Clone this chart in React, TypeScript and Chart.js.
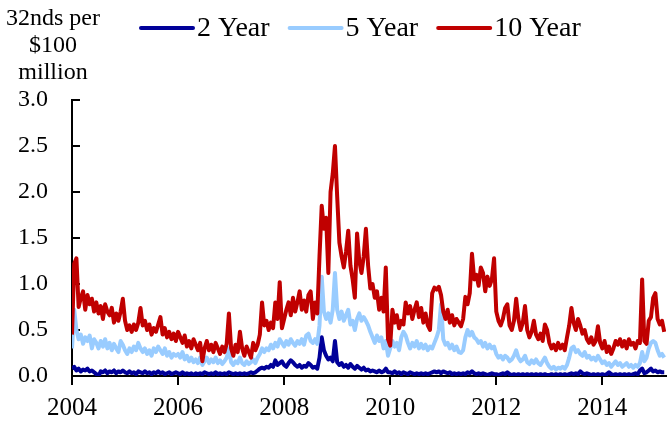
import React, { useEffect, useRef } from "react";
import { Chart, registerables } from "chart.js";

Chart.register(...registerables);

// ---- data (half-monthly observations starting Jan 2004) ----
const START_YEAR = 2004;
const POINTS_PER_YEAR = 24;

const seriesLabels = ["2 Year", "5 Year", "10 Year"];
const seriesColors = ["#000099", "#99CCFF", "#C00000"];

const twoYear = [
  0.08, 0.1, 0.06, 0.08, 0.05, 0.07, 0.06, 0.08, 0.05, 0.06, 0.04, 0.02, 0.0, 0.05, 0.04, 0.06, 0.03, 0.05, 0.04, 0.06, 0.03, 0.05, 0.04, 0.06,
  0.04, 0.03, 0.05, 0.03, 0.04, 0.02, 0.05, 0.04, 0.03, 0.05, 0.03, 0.04, 0.02, 0.04, 0.03, 0.05, 0.03, 0.04, 0.02, 0.03, 0.04, 0.02, 0.03, 0.04,
  0.03, 0.02, 0.04, 0.02, 0.03, 0.02, 0.03, 0.01, 0.03, 0.02, 0.03, 0.02, 0.04, 0.03, 0.02, 0.03, 0.02, 0.04, 0.02, 0.03, 0.02, 0.03, 0.02, 0.04,
  0.03, 0.02, 0.03, 0.02, 0.03, 0.02, 0.03, 0.02, 0.03, 0.04, 0.03, 0.04, 0.06, 0.08, 0.09, 0.08, 0.1, 0.09, 0.12, 0.1, 0.17, 0.12, 0.14, 0.16,
  0.12, 0.1, 0.14, 0.17, 0.15, 0.12, 0.1, 0.12, 0.09, 0.11, 0.1, 0.14, 0.12, 0.09, 0.1, 0.08, 0.2, 0.42, 0.28, 0.22, 0.18, 0.2, 0.16, 0.38,
  0.15, 0.12, 0.14, 0.1, 0.12, 0.09, 0.13, 0.1, 0.08, 0.11, 0.09, 0.07, 0.09, 0.06, 0.07, 0.05, 0.06, 0.05, 0.04, 0.06, 0.04, 0.05, 0.08, 0.04,
  0.04, 0.03, 0.05, 0.03, 0.04, 0.02, 0.04, 0.03, 0.02, 0.04, 0.03, 0.02, 0.03, 0.02, 0.03, 0.02, 0.03, 0.02, 0.03, 0.04, 0.05, 0.04, 0.05, 0.03,
  0.05, 0.04, 0.03, 0.04, 0.02, 0.03, 0.02, 0.03, 0.02, 0.03, 0.02, 0.04, 0.03, 0.05, 0.03, 0.02, 0.03, 0.02, 0.03, 0.02, 0.01, 0.02, 0.03, 0.02,
  0.02, 0.01, 0.02, 0.03, 0.02, 0.04, 0.02, 0.01, 0.02, 0.01, 0.02, 0.01, 0.02, 0.01, 0.02, 0.01, 0.02, 0.01, 0.02, 0.01, 0.02, 0.01, 0.02, 0.01,
  0.01, 0.02, 0.01, 0.02, 0.01, 0.02, 0.01, 0.02, 0.01, 0.02, 0.03, 0.02, 0.03, 0.02, 0.05, 0.03, 0.02, 0.03, 0.02, 0.01, 0.02, 0.01, 0.02, 0.01,
  0.02, 0.01, 0.02, 0.04, 0.02, 0.01, 0.02, 0.01, 0.02, 0.01, 0.02, 0.01, 0.02, 0.01, 0.02, 0.03, 0.02, 0.06, 0.08, 0.03, 0.04, 0.06, 0.08, 0.05,
  0.06, 0.04, 0.05, 0.04, 0.04,
];

const fiveYear = [
  0.3, 0.72, 0.5, 0.4, 0.45, 0.35, 0.42, 0.38, 0.44, 0.3, 0.4, 0.36, 0.3, 0.38, 0.32, 0.4, 0.3, 0.36, 0.28, 0.35, 0.3, 0.26, 0.38, 0.34,
  0.28, 0.24, 0.3, 0.26, 0.32, 0.28, 0.36, 0.3, 0.26, 0.3, 0.24, 0.28, 0.22, 0.3, 0.26, 0.32, 0.28, 0.24, 0.3, 0.22, 0.26, 0.2, 0.24, 0.22,
  0.24, 0.2, 0.26, 0.18, 0.22, 0.16, 0.2, 0.15, 0.18, 0.14, 0.2, 0.12, 0.16, 0.2, 0.14, 0.18, 0.15, 0.2, 0.14, 0.17, 0.13, 0.16, 0.2, 0.3,
  0.15, 0.12, 0.16, 0.14, 0.2, 0.14, 0.12, 0.16, 0.13, 0.15, 0.18, 0.14, 0.2, 0.24, 0.3, 0.26, 0.3, 0.28, 0.34, 0.3, 0.36, 0.32, 0.4, 0.36,
  0.32, 0.38, 0.34, 0.4, 0.36, 0.33, 0.38, 0.35, 0.4, 0.34, 0.44, 0.46, 0.38, 0.36, 0.4, 0.35, 0.55, 1.08, 0.7, 0.62, 0.68, 0.58, 0.72, 1.12,
  0.72, 0.62, 0.7, 0.6, 0.66, 0.72, 0.56, 0.6, 0.5, 0.62, 0.68, 0.6, 0.64, 0.6, 0.55, 0.48, 0.42, 0.36, 0.44, 0.38, 0.42, 0.3, 0.38, 0.22,
  0.3, 0.38, 0.32, 0.36, 0.28, 0.42, 0.48, 0.44, 0.36, 0.3, 0.36, 0.32, 0.38, 0.3, 0.35, 0.3, 0.34, 0.28, 0.32, 0.3, 0.36, 0.42, 0.5, 0.78,
  0.4, 0.34, 0.36, 0.3, 0.34, 0.28, 0.32, 0.26, 0.25, 0.28, 0.42, 0.5, 0.44, 0.48, 0.42, 0.4, 0.36, 0.38, 0.32, 0.36, 0.3, 0.34, 0.3, 0.32,
  0.24, 0.2, 0.22, 0.18, 0.22, 0.2, 0.16, 0.18, 0.22, 0.28, 0.2, 0.16, 0.18, 0.22, 0.15, 0.13, 0.17, 0.14, 0.18, 0.14, 0.12, 0.16, 0.2, 0.14,
  0.1, 0.08, 0.1, 0.07, 0.09, 0.08, 0.1, 0.08, 0.12, 0.2, 0.3, 0.32, 0.26, 0.28, 0.24, 0.22, 0.26, 0.2, 0.22, 0.18, 0.2, 0.17, 0.22, 0.18,
  0.14, 0.16, 0.12, 0.14, 0.1, 0.13, 0.16, 0.12, 0.14, 0.1, 0.12, 0.14, 0.1, 0.12, 0.09, 0.12, 0.1, 0.14, 0.26, 0.16, 0.2, 0.3, 0.36, 0.38,
  0.36, 0.28, 0.22, 0.24, 0.2,
];

const tenYear = [
  0.45, 1.22, 1.28, 0.75, 0.85, 0.92, 0.72, 0.88, 0.78, 0.84, 0.7, 0.8, 0.68, 0.76, 0.62, 0.78, 0.7, 0.66, 0.74, 0.58, 0.68, 0.6, 0.7, 0.84,
  0.6, 0.5, 0.55, 0.48, 0.56, 0.5, 0.58, 0.74, 0.55, 0.6, 0.5, 0.56, 0.45, 0.52, 0.48, 0.56, 0.64, 0.45, 0.52, 0.42, 0.48, 0.4, 0.46, 0.38,
  0.48, 0.42, 0.36, 0.44, 0.32, 0.38, 0.3, 0.4, 0.34, 0.28, 0.36, 0.16, 0.3, 0.38, 0.28, 0.34, 0.26, 0.36, 0.3, 0.24, 0.32, 0.26, 0.35, 0.68,
  0.3, 0.22, 0.34, 0.26, 0.48, 0.3, 0.22, 0.32, 0.26, 0.2, 0.36, 0.28, 0.34, 0.45, 0.8, 0.55, 0.6, 0.5, 0.58, 0.52, 0.8, 0.62, 1.02, 0.52,
  0.62, 0.72, 0.8, 0.66, 0.85, 0.7, 0.8, 0.92, 0.72, 0.82, 0.7, 0.88, 0.92, 0.62, 0.8, 0.68, 1.3, 1.85, 1.6, 1.72, 1.12, 2.0, 2.2, 2.5,
  1.95, 1.45, 1.3, 1.18, 1.35, 1.58, 1.2, 1.05, 0.85, 1.55, 1.25, 1.12, 1.3, 1.6, 1.2, 0.95, 1.0, 0.85, 0.92, 0.72, 0.85, 0.7, 1.18, 0.4,
  0.33, 0.72, 0.58, 0.66, 0.52, 0.6, 0.56, 0.8, 0.68, 0.76, 0.62, 0.72, 0.8, 0.64, 0.74, 0.58, 0.68, 0.55, 0.5, 0.9, 0.96, 0.94, 0.97, 0.88,
  0.7, 0.62, 0.72, 0.58, 0.66, 0.55, 0.62, 0.58, 0.54, 0.62, 0.86, 0.78, 0.9, 1.33, 1.05, 1.1, 0.98, 1.18, 1.12, 0.92, 1.08, 0.98, 1.05, 1.28,
  0.7, 0.6, 0.55, 0.62, 0.74, 0.78, 0.55, 0.5, 0.6, 0.84, 0.62, 0.5, 0.58, 0.76, 0.5, 0.42, 0.48, 0.6, 0.45, 0.4, 0.46, 0.38, 0.56, 0.5,
  0.36, 0.3, 0.34, 0.28, 0.36, 0.3, 0.34, 0.28, 0.42, 0.55, 0.74, 0.58, 0.5, 0.62, 0.55, 0.46, 0.5, 0.4, 0.36, 0.42, 0.34, 0.38, 0.54, 0.36,
  0.3, 0.38, 0.26, 0.32, 0.24, 0.3, 0.38, 0.34, 0.4, 0.32, 0.38, 0.3, 0.4, 0.34, 0.36, 0.3, 0.38, 0.36, 1.05, 0.38, 0.35, 0.6, 0.64, 0.85,
  0.9, 0.62, 0.56, 0.6, 0.48,
];

const xTickYears = [2004, 2006, 2008, 2010, 2012, 2014];
const X_MAX = 2015.2;
const Y_MIN = 0;
const Y_MAX = 3;
const Y_STEP = 0.5;
const unitTitleLines = ["32nds per", "$100", "million"];

const FONT = "'Liberation Serif', 'Times New Roman', serif";

const toPoints = (values: number[]) =>
  values.map((v, i) => ({ x: START_YEAR + i / POINTS_PER_YEAR, y: v }));

const overlayPlugin = {
  id: "overlayText",
  afterDraw(chart: any) {
    const ctx = chart.ctx as CanvasRenderingContext2D;
    ctx.save();
    // unit title (top-left)
    ctx.fillStyle = "#000";
    ctx.font = `24px ${FONT}`;
    ctx.textAlign = "center";
    ctx.textBaseline = "middle";
    unitTitleLines.forEach((t, i) => ctx.fillText(t, 53, 19 + i * 27));
    // legend
    ctx.font = `28px ${FONT}`;
    ctx.textAlign = "left";
    let x = 141;
    const y = 28;
    chart.data.datasets.forEach((ds: any) => {
      ctx.strokeStyle = ds.borderColor;
      ctx.lineWidth = 4;
      ctx.lineCap = "round";
      ctx.beginPath();
      ctx.moveTo(x, y);
      ctx.lineTo(x + 52, y);
      ctx.stroke();
      ctx.fillText(ds.label, x + 56, y + 1);
      x += 56 + ctx.measureText(ds.label).width + 20;
    });
    ctx.restore();
  },
};

export default function App() {
  const canvasRef = useRef<HTMLCanvasElement | null>(null);

  useEffect(() => {
    document.body.style.margin = "0";
    const canvas = canvasRef.current;
    if (!canvas) return;
    const seriesValues = [twoYear, fiveYear, tenYear];
    const chart = new Chart(canvas, {
      type: "line",
      data: {
        datasets: seriesValues.map((vals, i) => ({
          label: seriesLabels[i],
          data: toPoints(vals),
          borderColor: seriesColors[i],
          backgroundColor: seriesColors[i],
          borderWidth: 4,
          pointRadius: 0,
          tension: 0,
          fill: false,
          borderJoinStyle: "round" as const,
          order: 3 - i,
        })),
      },
      options: {
        animation: false,
        responsive: true,
        maintainAspectRatio: false,
        layout: { padding: { top: 100, right: 1, left: 0, bottom: 0 } },
        plugins: {
          legend: { display: false },
          tooltip: { enabled: false },
          title: { display: false },
        },
        scales: {
          x: {
            type: "linear",
            min: START_YEAR,
            max: X_MAX,
            afterFit: (s: any) => {
              s.height = 50;
            },
            border: { display: true, color: "#000", width: 2 },
            grid: {
              display: true,
              drawOnChartArea: false,
              drawTicks: true,
              tickLength: 9,
              color: "#000",
              lineWidth: 2,
            },
            ticks: {
              stepSize: 2,
              includeBounds: false,
              autoSkip: false,
              maxRotation: 0,
              padding: 8,
              color: "#000",
              font: { family: FONT, size: 25 },
              callback: (v: any) => (xTickYears.includes(Number(v)) ? String(v) : ""),
            },
          },
          y: {
            min: Y_MIN,
            max: Y_MAX,
            afterFit: (s: any) => {
              s.width = 72;
            },
            border: { display: true, color: "#000", width: 2 },
            grid: {
              display: true,
              drawOnChartArea: false,
              drawTicks: true,
              tickLength: -8,
              color: "#000",
              lineWidth: 2,
            },
            ticks: {
              stepSize: Y_STEP,
              padding: 32,
              color: "#000",
              font: { family: FONT, size: 24 },
              callback: (v: any) => Number(v).toFixed(1),
            },
          },
        },
      },
      plugins: [overlayPlugin],
    });
    return () => chart.destroy();
  }, []);

  return (
    <div style={{ position: "absolute", left: 0, top: 0, width: 667, height: 426 }}>
      <canvas ref={canvasRef} />
    </div>
  );
}
